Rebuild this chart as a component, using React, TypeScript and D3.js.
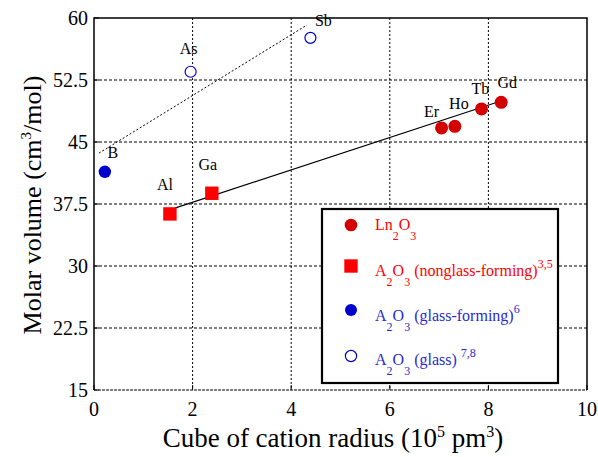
import React from "react";
import * as d3 from "d3";

// ---- data ----
const xTicks = [0, 2, 4, 6, 8, 10];
const xTickLabels = ["0", "2", "4", "6", "8", "10"];
const yTicks = [15, 22.5, 30, 37.5, 45, 52.5, 60];
const yTickLabels = ["15", "22.5", "30", "37.5", "45", "52.5", "60"];

const lnNames = ["Er", "Ho", "Tb", "Gd"];
const lnX = [7.05, 7.32, 7.86, 8.26];
const lnY = [46.7, 46.9, 49.0, 49.8];

const nonglassNames = ["Al", "Ga"];
const nonglassX = [1.54, 2.39];
const nonglassY = [36.3, 38.8];

const glassFormingNames = ["B"];
const glassFormingX = [0.22];
const glassFormingY = [41.4];

const glassNames = ["As", "Sb"];
const glassX = [1.96, 4.39];
const glassY = [53.5, 57.6];

const solidFitX = [1.64, 8.3];
const solidFitY = [37.0, 50.05];
const dottedFitX = [0.1, 4.32];
const dottedFitY = [43.65, 59.15];

// label offsets in pixels (style, not data)
const lnLabelOff: [number, number][] = [[-10, -11], [4, -17], [-1, -15], [6, -14]];
const nonglassLabelOff: [number, number][] = [[-5, -24], [-4, -23]];
const glassFormingLabelOff: [number, number][] = [[8, -14]];
const glassLabelOff: [number, number][] = [[-2, -18], [13, -12]];

const W = 598;
const H = 457;
const L = 94, R = 587, T = 18, B = 390;

const RED_DARK = "#d40000";
const RED = "#ff0000";
const BLUE = "#0000cc";
const BLUE_TXT = "#2a2ad0";
const FONT = "Liberation Serif";

export default function App() {
  const x = d3.scaleLinear().domain([0, 10]).range([L, R]);
  const y = d3.scaleLinear().domain([15, 60]).range([B, T]);
  const line = d3.line<[number, number]>().x((d) => x(d[0])).y((d) => y(d[1]));

  const solidPts: [number, number][] = solidFitX.map((v, i) => [v, solidFitY[i]]);
  const dottedPts: [number, number][] = dottedFitX.map((v, i) => [v, dottedFitY[i]]);

  const label = (names: string[], xs: number[], ys: number[], off: [number, number][]) =>
    names.map((n, i) => (
      <text key={n} x={x(xs[i]) + off[i][0]} y={y(ys[i]) + off[i][1]} textAnchor="middle" style={{ fontFamily: FONT, fontSize: 16 }} fill="#000">
        {n}
      </text>
    ));

  const legX = 322, legY = 209, legW = 236, legH = 174;
  const markX = 351;
  const textX = 375;
  const rows = [230, 276, 321, 365];
  const legStyle = { fontFamily: FONT, fontSize: 16 };
  const sub = { fontFamily: FONT, fontSize: 12 };

  return (
    <svg width={W} height={H} style={{ position: "absolute", left: 0, top: 0, background: "#fff" }}>
      {/* grid */}
      {xTicks.filter((t) => t > 0 && t < 10).map((t) => (
        <line key={"gx" + t} x1={x(t)} x2={x(t)} y1={T} y2={B} stroke="#000" strokeWidth={1} strokeDasharray="2,2" />
      ))}
      {yTicks.filter((t) => t > 15 && t < 60).map((t) => (
        <line key={"gy" + t} x1={L} x2={R} y1={y(t)} y2={y(t)} stroke="#000" strokeWidth={1} strokeDasharray="3,2" />
      ))}
      {/* ticks */}
      {xTicks.map((t) => (
        <line key={"tx" + t} x1={x(t)} x2={x(t)} y1={B} y2={B - 5} stroke="#000" strokeWidth={1} />
      ))}
      {yTicks.map((t) => (
        <line key={"ty" + t} x1={L} x2={L + 5} y1={y(t)} y2={y(t)} stroke="#000" strokeWidth={1} />
      ))}
      {/* frame */}
      <path d={`M${L},${B} L${L},${T} L${R},${T} L${R},${B}`} fill="none" stroke="#000" strokeWidth={1.5} />
      <line x1={L} x2={R} y1={B} y2={B} stroke="#000" strokeWidth={1.2} strokeDasharray="3,1" />

      {/* tick labels */}
      {yTicks.map((t, i) => (
        <text key={"yl" + t} x={88} y={y(t)} dy="0.35em" textAnchor="end" style={{ fontFamily: FONT, fontSize: 20 }} fill="#000">
          {yTickLabels[i]}
        </text>
      ))}
      {xTicks.map((t, i) => (
        <text key={"xl" + t} x={x(t)} y={416} textAnchor="middle" style={{ fontFamily: FONT, fontSize: 20 }} fill="#000">
          {xTickLabels[i]}
        </text>
      ))}

      {/* axis titles */}
      <text x={333} y={447} textAnchor="middle" style={{ fontFamily: FONT, fontSize: 27 }} fill="#000">
        Cube of cation radius (10
        <tspan dy={-10} style={{ fontFamily: FONT, fontSize: 16 }}>5</tspan>
        <tspan dy={10}> pm</tspan>
        <tspan dy={-10} style={{ fontFamily: FONT, fontSize: 16 }}>3</tspan>
        <tspan dy={10}>)</tspan>
      </text>
      <text transform={`translate(41,205) rotate(-90)`} textAnchor="middle" style={{ fontFamily: FONT, fontSize: 26 }} fill="#000">
        Molar volume (cm
        <tspan dy={-10} style={{ fontFamily: FONT, fontSize: 15 }}>3</tspan>
        <tspan dy={10}>/mol)</tspan>
      </text>

      {/* fit lines */}
      <path d={line(solidPts) || ""} fill="none" stroke="#000" strokeWidth={1.2} />
      <path d={line(dottedPts) || ""} fill="none" stroke="#000" strokeWidth={1} strokeDasharray="2,2" />

      {/* points */}
      {lnX.map((v, i) => (
        <circle key={"ln" + i} cx={x(v)} cy={y(lnY[i])} r={6.5} fill={RED_DARK} />
      ))}
      {nonglassX.map((v, i) => (
        <rect key={"ng" + i} x={x(v) - 6.7} y={y(nonglassY[i]) - 6.7} width={13.4} height={13.4} fill={RED} />
      ))}
      {glassFormingX.map((v, i) => (
        <circle key={"gf" + i} cx={x(v)} cy={y(glassFormingY[i])} r={6.2} fill={BLUE} />
      ))}
      {glassX.map((v, i) => (
        <circle key={"g" + i} cx={x(v)} cy={y(glassY[i])} r={5.5} fill="#fff" stroke={BLUE} strokeWidth={1.2} />
      ))}

      {/* point labels */}
      {label(lnNames, lnX, lnY, lnLabelOff)}
      {label(nonglassNames, nonglassX, nonglassY, nonglassLabelOff)}
      {label(glassFormingNames, glassFormingX, glassFormingY, glassFormingLabelOff)}
      {label(glassNames, glassX, glassY, glassLabelOff)}

      {/* legend */}
      <rect x={legX} y={legY} width={legW} height={legH} fill="#fff" stroke="#000" strokeWidth={2.2} />
      <circle cx={markX} cy={rows[0] - 5} r={6.3} fill={RED_DARK} />
      <rect x={markX - 6.7} y={rows[1] - 10 - 6.7} width={13.4} height={13.4} fill={RED} />
      <circle cx={markX} cy={rows[2] - 11} r={6} fill={BLUE} />
      <circle cx={markX} cy={rows[3] - 9} r={5.6} fill="#fff" stroke={BLUE} strokeWidth={1.2} />

      <text x={textX} y={rows[0]} style={legStyle} fill={RED}>
        Ln<tspan dy={10} style={sub}>2</tspan>
        <tspan dy={-10}>O</tspan>
        <tspan dy={10} style={sub}>3</tspan>
      </text>
      <text x={textX} y={rows[1]} style={legStyle} fill={RED}>
        A<tspan dy={10} style={sub}>2</tspan>
        <tspan dy={-10}>O</tspan>
        <tspan dy={10} style={sub}>3</tspan>
        <tspan dy={-10}> (nonglass-forming)</tspan>
        <tspan dy={-8} style={sub}>3,5</tspan>
      </text>
      <text x={textX} y={rows[2]} style={legStyle} fill={BLUE_TXT}>
        A<tspan dy={10} style={sub}>2</tspan>
        <tspan dy={-10}>O</tspan>
        <tspan dy={10} style={sub}>3</tspan>
        <tspan dy={-10}> (glass-forming)</tspan>
        <tspan dy={-8} style={sub}>6</tspan>
      </text>
      <text x={textX} y={rows[3]} style={legStyle} fill={BLUE_TXT}>
        A<tspan dy={10} style={sub}>2</tspan>
        <tspan dy={-10}>O</tspan>
        <tspan dy={10} style={sub}>3</tspan>
        <tspan dy={-10}> (glass) </tspan>
        <tspan dy={-8} style={sub}>7,8</tspan>
      </text>
    </svg>
  );
}
